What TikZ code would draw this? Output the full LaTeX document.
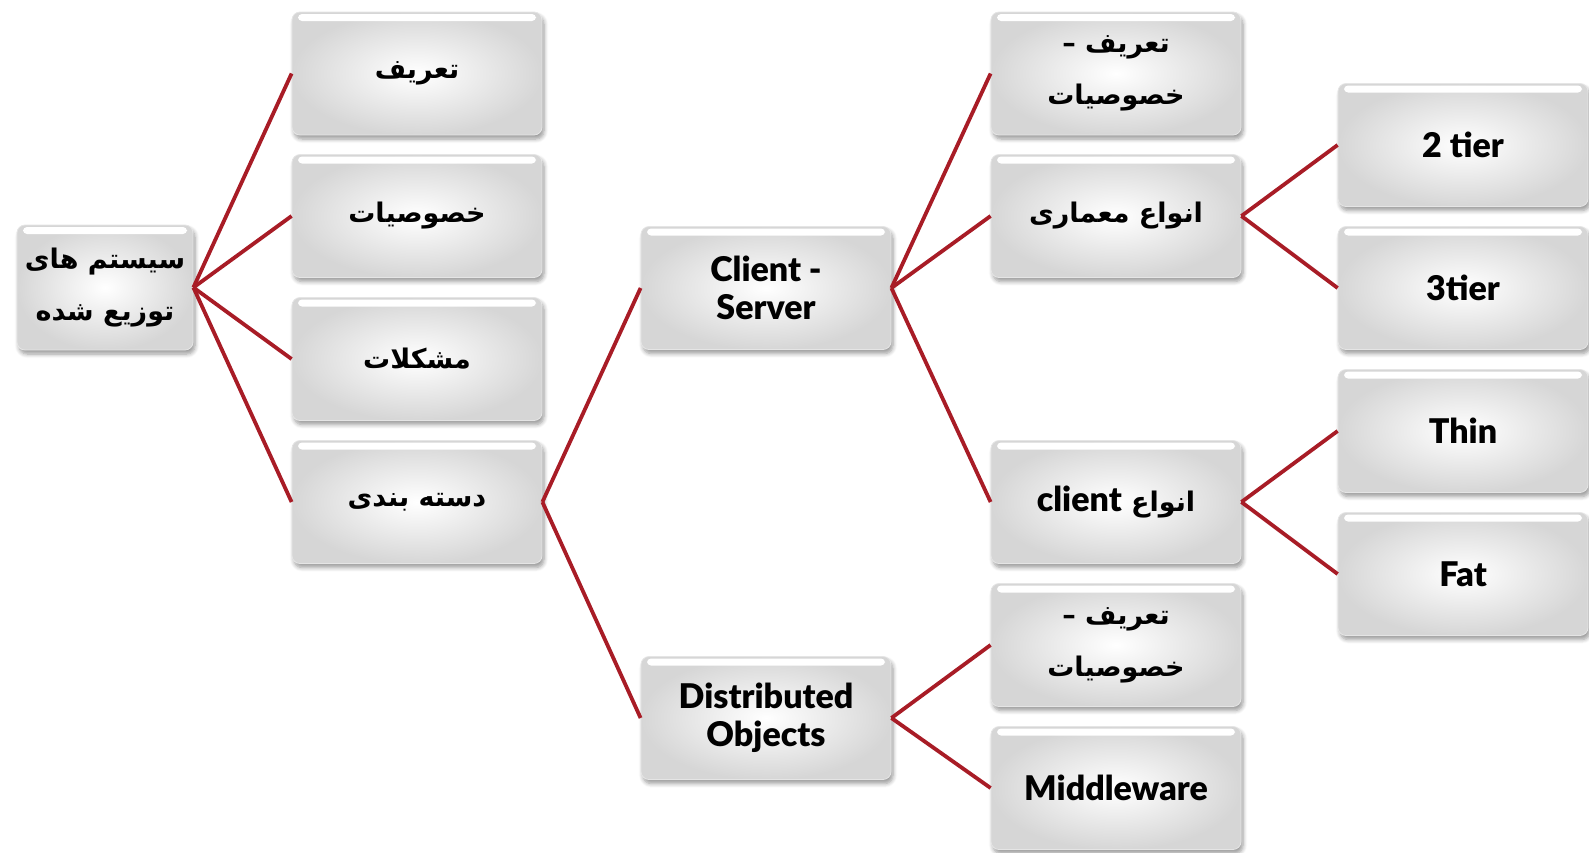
\documentclass[tikz,border=0pt]{standalone}
\usepackage{fontspec}
\setmainfont{Lato}[BoldFont={Lato Black}]
\newfontfamily\farsi[Script=Arabic]{DejaVu Sans}
\TeXXeTstate=1
\usetikzlibrary{shadows.blur}
\definecolor{linkred}{RGB}{168,28,38}
\tikzset{
  box/.style={rounded corners=4pt, inner color=white, outer color=black!16,
    draw=black!10, minimum width=125pt, minimum height=61.5pt, align=center,
    font=\bfseries\fontsize{17}{19}\selectfont,
    path picture={\fill[white,rounded corners=2pt]
      ([xshift=3pt,yshift=-1pt]path picture bounding box.north west) rectangle
      ([xshift=-3pt,yshift=-4.5pt]path picture bounding box.north east);},
    blur shadow={shadow xshift=1pt, shadow yshift=-2pt, shadow opacity=40, shadow blur steps=6}},
  fa/.style={font=\farsi\bfseries\fontsize{13.5}{26}\selectfont},
  link/.style={linkred, line width=1.9pt}
}
\begin{document}
\begin{tikzpicture}[x=5pt,y=-5pt]
\useasboundingbox (0,0) rectangle (158.9,85.2);
% root and first column
\node[box,fa,minimum width=88pt,minimum height=62.5pt] (sys) at (10.5,28.75) {\beginR سیستم های\endR\\\beginR توزیع شده\endR};
\node[box,fa] (def) at (41.7,7.35) {\beginR تعریف\endR};
\node[box,fa] (prop) at (41.7,21.6) {\beginR خصوصیات\endR};
\node[box,fa] (prob) at (41.7,35.9) {\beginR مشکلات\endR};
\node[box,fa] (cls) at (41.7,50.2) {\beginR دسته بندی\endR};
% second column
\node[box] (cs) at (76.6,28.8) {Client -\\Server};
\node[box] (dobj) at (76.6,71.8) {Distributed\\Objects};
% third column
\node[box,fa] (csdef) at (111.6,7.35) {\beginR تعریف –\endR\\\beginR خصوصیات\endR};
\node[box,fa] (arch) at (111.6,21.6) {\beginR انواع معماری\endR};
\node[box,fa] (ctype) at (111.6,50.2) {\beginR انواع \beginL{\normalfont\bfseries\fontsize{17}{19}\selectfont client}\endL\endR};
\node[box,fa] (dodef) at (111.6,64.5) {\beginR تعریف –\endR\\\beginR خصوصیات\endR};
\node[box] (mid) at (111.6,78.8) {Middleware};
% fourth column
\node[box] (two) at (146.3,14.5) {2 tier};
\node[box] (three) at (146.3,28.8) {3tier};
\node[box] (thin) at (146.3,43.1) {Thin};
\node[box] (fat) at (146.3,57.4) {Fat};
% links
\foreach \a/\b in {sys/def,sys/prop,sys/prob,sys/cls,cls/cs,cls/dobj,cs/csdef,cs/arch,cs/ctype,arch/two,arch/three,ctype/thin,ctype/fat,dobj/dodef,dobj/mid}
  \draw[link] (\a.east) -- (\b.west);
\end{tikzpicture}
\end{document}
